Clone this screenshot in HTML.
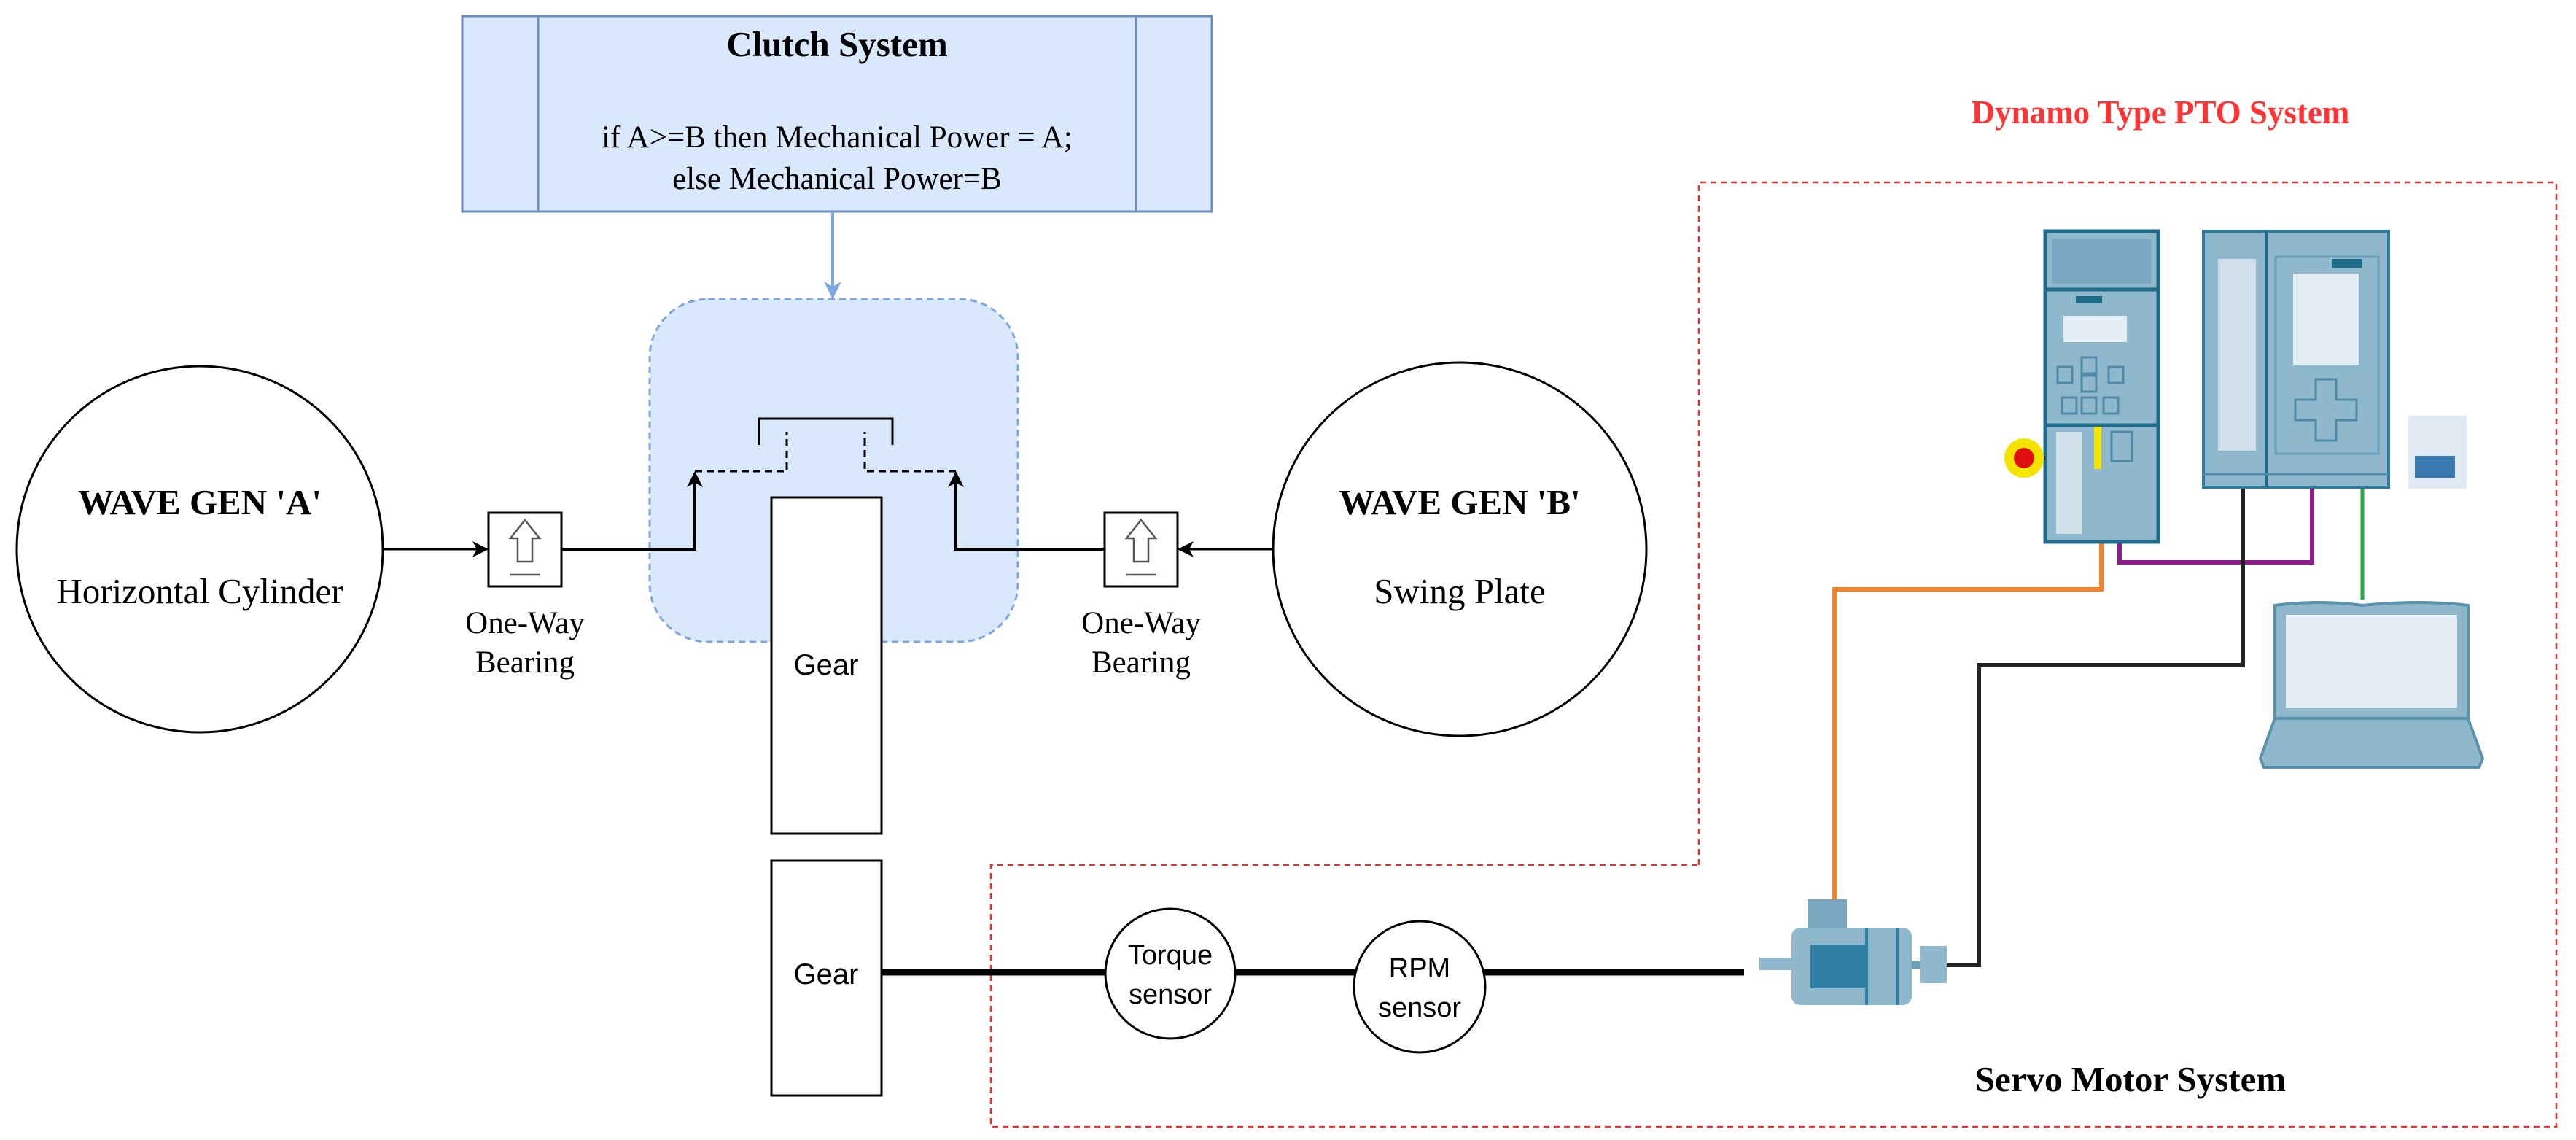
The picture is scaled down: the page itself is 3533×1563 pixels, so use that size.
<!DOCTYPE html>
<html><head><meta charset="utf-8"><style>
html,body{margin:0;padding:0;background:#fff;}
svg{display:block;}
.ser{font-family:"Liberation Serif",serif;}
.san{font-family:"Liberation Sans",sans-serif;}
</style></head><body>
<svg width="3533" height="1563" viewBox="0 0 3533 1563" xmlns="http://www.w3.org/2000/svg">
<defs>
<marker id="ab" markerWidth="22" markerHeight="22" refX="20" refY="11" orient="auto" markerUnits="userSpaceOnUse" viewBox="0 0 22 22"><path d="M0,0 L22,11 L0,22 L6,11 z" fill="#000"/></marker>
<marker id="abl" markerWidth="24" markerHeight="24" refX="22" refY="12" orient="auto" markerUnits="userSpaceOnUse" viewBox="0 0 24 24"><path d="M0,0 L24,12 L0,24 L7,12 z" fill="#7ea6e0"/></marker>
</defs>
<!-- Clutch system -->
<rect x="634" y="22" width="1028" height="268" fill="#dae8fc" stroke="#6c8ebf" stroke-width="3"/>
<line x1="738" y1="22" x2="738" y2="290" stroke="#6c8ebf" stroke-width="3"/>
<line x1="1558" y1="22" x2="1558" y2="290" stroke="#6c8ebf" stroke-width="3"/>
<text x="1148" y="77" text-anchor="middle" class="ser" font-size="49" font-weight="bold">Clutch System</text>
<text x="1148" y="202" text-anchor="middle" class="ser" font-size="43">if A&gt;=B then Mechanical Power = A;</text>
<text x="1148" y="259" text-anchor="middle" class="ser" font-size="43">else Mechanical Power=B</text>
<line x1="1142" y1="290" x2="1142" y2="408" stroke="#7ea6e0" stroke-width="4" marker-end="url(#abl)"/>
<!-- dashed clutch area -->
<rect x="891" y="410" width="505" height="470" rx="80" fill="#dae8fc" stroke="#7ea6e0" stroke-width="3" stroke-dasharray="9,6"/>
<!-- Wave gen A -->
<circle cx="274" cy="753" r="251" fill="#fff" stroke="#000" stroke-width="3"/>
<text x="274" y="705" text-anchor="middle" class="ser" font-size="49" font-weight="bold">WAVE GEN 'A'</text>
<text x="274" y="827" text-anchor="middle" class="ser" font-size="49">Horizontal Cylinder</text>
<!-- Wave gen B -->
<circle cx="2002" cy="753" r="256" fill="#fff" stroke="#000" stroke-width="3"/>
<text x="2002" y="705" text-anchor="middle" class="ser" font-size="49" font-weight="bold">WAVE GEN 'B'</text>
<text x="2002" y="827" text-anchor="middle" class="ser" font-size="49">Swing Plate</text>
<!-- connectors -->
<line x1="526" y1="753" x2="668" y2="753" stroke="#000" stroke-width="3" marker-end="url(#ab)"/>
<line x1="1746" y1="753" x2="1617" y2="753" stroke="#000" stroke-width="3" marker-end="url(#ab)"/>
<polyline points="770,753 953,753 953,648" fill="none" stroke="#000" stroke-width="4" marker-end="url(#ab)"/>
<polyline points="1515,753 1311,753 1311,648" fill="none" stroke="#000" stroke-width="4" marker-end="url(#ab)"/>
<polyline points="953,646 1079,646 1079,592" fill="none" stroke="#000" stroke-width="3" stroke-dasharray="10,6"/>
<polyline points="1311,646 1186,646 1186,592" fill="none" stroke="#000" stroke-width="3" stroke-dasharray="10,6"/>
<polyline points="1041,610 1041,574 1224,574 1224,610" fill="none" stroke="#000" stroke-width="3"/>
<!-- bearings -->
<g stroke="#000" stroke-width="3" fill="#fff">
<rect x="670" y="703" width="100" height="101"/>
<rect x="1515" y="703" width="100" height="101"/>
</g>
<g fill="none" stroke="#555" stroke-width="2.5">
<path d="M720,713 L740,738 L730,738 L730,770 L710,770 L710,738 L700,738 Z"/>
<line x1="700" y1="788" x2="740" y2="788"/>
<path d="M1565,713 L1585,738 L1575,738 L1575,770 L1555,770 L1555,738 L1545,738 Z"/>
<line x1="1545" y1="788" x2="1585" y2="788"/>
</g>
<text x="720" y="868" text-anchor="middle" class="ser" font-size="43">One-Way</text>
<text x="720" y="922" text-anchor="middle" class="ser" font-size="43">Bearing</text>
<text x="1565" y="868" text-anchor="middle" class="ser" font-size="43">One-Way</text>
<text x="1565" y="922" text-anchor="middle" class="ser" font-size="43">Bearing</text>
<!-- gears -->
<rect x="1058" y="682" width="151" height="461" fill="#fff" stroke="#000" stroke-width="3"/>
<text x="1133" y="925" text-anchor="middle" class="san" font-size="40">Gear</text>
<rect x="1058" y="1180" width="151" height="322" fill="#fff" stroke="#000" stroke-width="3"/>
<text x="1133" y="1349" text-anchor="middle" class="san" font-size="40">Gear</text>
<!-- red dashed box -->
<polyline points="2330,1186 2330,250 3506,250 3506,1545 1359,1545 1359,1186 2330,1186" fill="none" stroke="#d33" stroke-width="2.5" stroke-dasharray="8,6"/>
<text x="2963" y="169" text-anchor="middle" class="ser" font-size="45" font-weight="bold" fill="#f33">Dynamo Type PTO System</text>
<text x="2922" y="1496" text-anchor="middle" class="ser" font-size="49" font-weight="bold">Servo Motor System</text>
<!-- shaft line -->
<line x1="1209" y1="1333" x2="2392" y2="1333" stroke="#000" stroke-width="9"/>
<circle cx="1605" cy="1335" r="89" fill="#fff" stroke="#000" stroke-width="3"/>
<text x="1605" y="1322" text-anchor="middle" class="san" font-size="38">Torque</text>
<text x="1605" y="1376" text-anchor="middle" class="san" font-size="38">sensor</text>
<circle cx="1947" cy="1353" r="90" fill="#fff" stroke="#000" stroke-width="3"/>
<text x="1947" y="1340" text-anchor="middle" class="san" font-size="38">RPM</text>
<text x="1947" y="1394" text-anchor="middle" class="san" font-size="38">sensor</text>
<!-- cables -->
<polyline points="2882,743 2882,808 2516,808 2516,1235" fill="none" stroke="#ff7f27" stroke-width="6"/>
<polyline points="2907,743 2907,771 3171,771 3171,668" fill="none" stroke="#8e1e8e" stroke-width="6"/>
<polyline points="3076,668 3076,912 2714,912 2714,1323 2670,1323" fill="none" stroke="#222" stroke-width="6"/>
<line x1="3240" y1="668" x2="3240" y2="822" stroke="#2aa84a" stroke-width="5"/>
<!-- drive -->
<g stroke="#1f6b8a" stroke-width="5">
<rect x="2805" y="317" width="155" height="426" fill="#8fb8cd"/>
<line x1="2805" y1="397" x2="2960" y2="397"/>
<line x1="2805" y1="583" x2="2960" y2="583"/>
</g>
<rect x="2815" y="327" width="135" height="62" fill="#7aa7bf"/>
<rect x="2830" y="433" width="87" height="36" fill="#e3eef4"/>
<rect x="2847" y="406" width="36" height="10" fill="#1f6b8a"/>
<g fill="none" stroke="#4f8ba8" stroke-width="3">
<rect x="2822" y="503" width="20" height="22"/><rect x="2855" y="490" width="20" height="22"/><rect x="2855" y="515" width="20" height="22"/><rect x="2892" y="503" width="20" height="22"/>
<rect x="2828" y="545" width="20" height="22"/><rect x="2855" y="545" width="20" height="22"/><rect x="2885" y="545" width="20" height="22"/>
</g>
<rect x="2820" y="592" width="36" height="140" fill="#d0e1ea"/>
<rect x="2872" y="585" width="10" height="58" fill="#f5e400"/>
<rect x="2896" y="592" width="28" height="40" fill="none" stroke="#4f8ba8" stroke-width="3"/>
<line x1="2760" y1="628" x2="2805" y2="628" stroke="#222" stroke-width="5"/>
<circle cx="2776" cy="628" r="27" fill="#f5e400"/>
<circle cx="2776" cy="628" r="14" fill="#e01010"/>
<!-- PLC -->
<rect x="3022" y="317" width="254" height="351" fill="#8fb8cd" stroke="#2e7a9a" stroke-width="4"/>
<line x1="3108" y1="317" x2="3108" y2="668" stroke="#1f6b8a" stroke-width="4"/>
<rect x="3042" y="355" width="52" height="263" fill="#cfe0ea"/>
<rect x="3121" y="352" width="141" height="270" fill="none" stroke="#6a9fba" stroke-width="3"/>
<rect x="3145" y="375" width="90" height="125" fill="#e3eef4"/>
<rect x="3198" y="355" width="42" height="12" fill="#1f6b8a"/>
<path d="M3176,520 h28 v28 h28 v28 h-28 v28 h-28 v-28 h-28 v-28 h28 z" fill="none" stroke="#4f8ba8" stroke-width="3"/>
<line x1="3022" y1="650" x2="3276" y2="650" stroke="#4f8ba8" stroke-width="3"/>
<rect x="3303" y="570" width="80" height="100" fill="#dfeaf2"/>
<rect x="3312" y="625" width="55" height="30" fill="#3a78b0"/>
<!-- laptop -->
<path d="M3120,830 Q3180,822 3240,830 Q3320,822 3385,830 L3385,985 L3120,985 Z" fill="#8fb8cd" stroke="#5b93ae" stroke-width="4"/>
<rect x="3135" y="843" width="235" height="128" fill="#e3eef4"/>
<path d="M3120,985 L3385,985 L3405,1040 L3400,1052 L3105,1052 L3100,1040 Z" fill="#8fb8cd" stroke="#5b93ae" stroke-width="4"/>
<!-- motor -->
<rect x="2413" y="1313" width="44" height="17" fill="#8fb8cd"/>
<rect x="2479" y="1233" width="54" height="44" fill="#7aa7bf"/>
<rect x="2457" y="1272" width="165" height="106" rx="12" fill="#8fb8cd"/>
<rect x="2483" y="1295" width="75" height="60" fill="#2f7fa3"/>
<line x1="2560" y1="1272" x2="2560" y2="1378" stroke="#2f7fa3" stroke-width="4"/>
<line x1="2602" y1="1272" x2="2602" y2="1378" stroke="#2f7fa3" stroke-width="4"/>
<rect x="2622" y="1318" width="12" height="10" fill="#6a9fba"/>
<rect x="2633" y="1297" width="37" height="51" fill="#8fb8cd"/>
</svg>
</body></html>
